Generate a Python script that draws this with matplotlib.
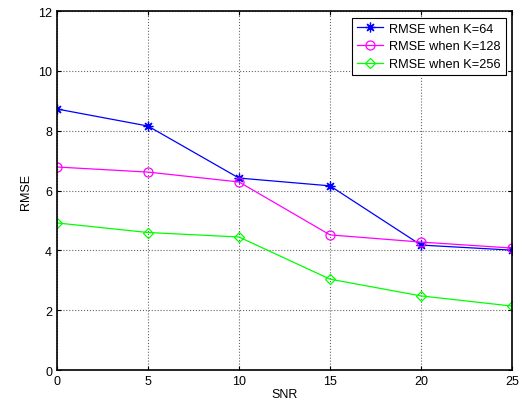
import numpy as np
import matplotlib
matplotlib.use('Agg')
import matplotlib.pyplot as plt

snr = [0, 5, 10, 15, 20, 25]
rmse_k64 = [8.73, 8.16, 6.42, 6.16, 4.18, 4.01]
rmse_k128 = [6.79, 6.62, 6.29, 4.52, 4.28, 4.08]
rmse_k256 = [4.92, 4.60, 4.45, 3.04, 2.48, 2.14]
x_ticks = [0, 5, 10, 15, 20, 25]
y_ticks = [0, 2, 4, 6, 8, 10, 12]

plt.rcParams['font.family'] = ['Liberation Sans', 'DejaVu Sans']
plt.rcParams['font.size'] = 9

fig = plt.figure(figsize=(5.22, 4.06), dpi=100)
ax = fig.add_axes([0.109, 0.086, 0.872, 0.884])

# MATLAB style '*' marker = 8-armed asterisk
ax.plot(snr, rmse_k64, color='blue', marker=(8, 2, 0), markersize=7, linewidth=0.9,
        markeredgewidth=0.9, label='RMSE when K=64')
ax.plot(snr, rmse_k128, color='magenta', marker='o', markersize=6.5, linewidth=0.9,
        markerfacecolor='none', markeredgewidth=0.9, label='RMSE when K=128')
ax.plot(snr, rmse_k256, color='#00ff00', marker='D', markersize=5.5, linewidth=0.9,
        markerfacecolor='none', markeredgewidth=0.9, label='RMSE when K=256')

ax.set_xlim(0, 25)
ax.set_ylim(0, 12)
ax.set_xticks(x_ticks)
ax.set_yticks(y_ticks)
ax.grid(True, linestyle=':', color='#666666', linewidth=0.8)
ax.tick_params(direction='in', top=True, right=True, length=3, width=0.8)
for s in ax.spines.values():
    s.set_linewidth(1.2)

ax.set_xlabel('SNR', labelpad=1)
ax.set_ylabel('RMSE', labelpad=4)

leg = ax.legend(loc='upper right', fancybox=False, framealpha=1, edgecolor='black',
                borderaxespad=0.5, handlelength=2.0, borderpad=0.4, labelspacing=0.45,
                handletextpad=0.5, fontsize=9.2)
leg.get_frame().set_linewidth(0.8)

fig.savefig('out.png', dpi=100)
